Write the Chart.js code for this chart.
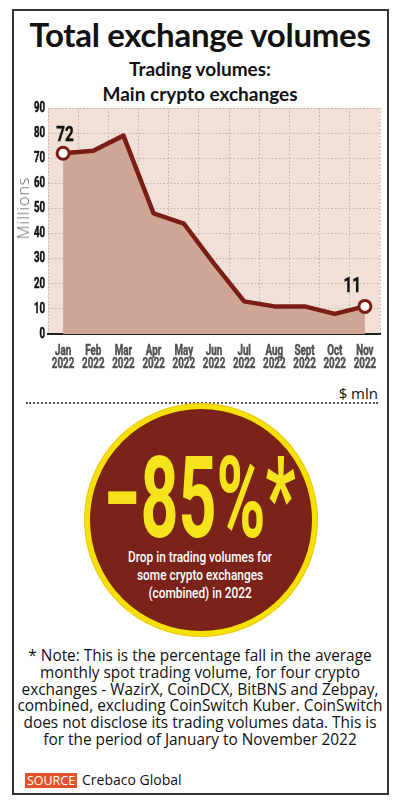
<!DOCTYPE html>
<html><head><meta charset="utf-8">
<script src="https://cdn.jsdelivr.net/npm/chart.js@4.4.1/dist/chart.umd.min.js"></script>
<style>
html,body{margin:0;padding:0;background:#fff;}
body{width:400px;height:807px;position:relative;overflow:hidden;font-family:Lato,"Open Sans",sans-serif;color:#111;}
.frame{position:absolute;left:12px;top:9px;width:377px;height:786px;border:2px solid #333;box-sizing:border-box;}
.title{position:absolute;left:0;top:14px;width:400px;text-align:center;font:700 33px/40px Lato,sans-serif;color:#111;letter-spacing:-0.3px;}
.sub{position:absolute;left:0;top:56px;width:400px;text-align:center;font:700 19px/25px Lato,sans-serif;color:#111;}
#chartWrap{position:absolute;left:0;top:0;width:400px;height:380px;}
.ytitle{position:absolute;left:23px;top:208px;transform:translate(-50%,-50%) rotate(-90deg);font:300 16px "Open Sans",sans-serif;color:#666;letter-spacing:1px;white-space:nowrap;}
.unit{position:absolute;right:22px;top:383px;font:400 15px "Open Sans",sans-serif;color:#111;}
.sep{position:absolute;left:26px;top:402px;width:352px;border-top:2px dotted #555;}
.circle{position:absolute;left:85px;top:404px;width:232px;height:232px;border-radius:50%;background:#7b2219;border:5px solid #f5e100;box-sizing:border-box;box-shadow:0 0 0 1px #f2c200;}
.big{position:absolute;left:0;top:442px;width:400px;text-align:center;font:700 113px/113px Roboto,sans-serif;color:#f5e41c;white-space:nowrap;}
.big span,.csub span{display:inline-block;transform-origin:50% 50%;}
.csub{position:absolute;left:0;top:548px;width:400px;text-align:center;font:500 15px/18px Roboto,sans-serif;color:#fff;white-space:nowrap;}
.note{position:absolute;left:0;top:648px;width:400px;text-align:center;font:400 15.4px/16.8px "Open Sans",sans-serif;color:#111;white-space:nowrap;}
.srcbox{position:absolute;left:25px;top:773px;width:52px;height:15px;background:#e3522b;color:#fff;font:400 12.5px/15px "Open Sans",sans-serif;text-align:center;}
.srctxt{position:absolute;left:82px;top:770px;font:400 14px/20px "Open Sans",sans-serif;color:#111;}
</style></head>
<body>
<div class="frame"></div>
<div class="title">Total exchange volumes</div>
<div class="sub">Trading volumes:<br>Main crypto exchanges</div>
<div id="chartWrap"><canvas id="c" width="400" height="380"></canvas></div>
<div class="ytitle">Millions</div>
<div class="unit">$ mln</div>
<div class="sep"></div>
<div class="circle"></div>
<div class="big"><span id="bigTxt" data-w="192">−85%*</span></div>
<div class="csub"><span id="csubTxt" data-w="144">Drop in trading volumes for<br>some crypto exchanges<br>(combined) in 2022</span></div>
<div class="note">* Note: This is the percentage fall in the average<br>monthly spot trading volume, for four crypto<br>exchanges - WazirX, CoinDCX, BitBNS and Zebpay,<br>combined, excluding CoinSwitch Kuber. CoinSwitch<br>does not disclose its trading volumes data. This is<br>for the period of January to November 2022</div>
<div class="srcbox">SOURCE</div>
<div class="srctxt">Crebaco Global</div>
<script>
// ---- data ----
const months = ['Jan','Feb','Mar','Apr','May','Jun','Jul','Aug','Sept','Oct','Nov'];
const years = ['2022','2022','2022','2022','2022','2022','2022','2022','2022','2022','2022'];
const volumes = [72, 73, 79, 48, 44, 28, 13, 11, 11, 8, 11];
const yTicks = [0,10,20,30,40,50,60,70,80,90];

const LINE = '#7a1d14';
const FILL = '#cfa696';
const PLOT_BG = '#f0e0d8';
const GRID = '#c7b0a6';
const CFONT = 'Roboto, sans-serif';

// fit condensed texts horizontally
['bigTxt','csubTxt'].forEach(id=>{
  const el=document.getElementById(id);
  const w=el.getBoundingClientRect().width;
  const s=parseFloat(el.dataset.w)/w;
  el.style.transform='scaleX('+s+')';
});

function narrowText(ctx, text, x, y, sx, bold){
  ctx.save(); ctx.translate(x, y); ctx.scale(sx, 1);
  ctx.fillText(text, 0, 0);
  if (bold) { ctx.lineWidth = bold; ctx.strokeStyle = ctx.fillStyle; ctx.strokeText(text, 0, 0); }
  ctx.restore();
}

const plotBg = {
  id:'plotBg',
  beforeDraw(chart){
    const {ctx, chartArea:a} = chart;
    ctx.save(); ctx.fillStyle = PLOT_BG;
    ctx.fillRect(a.left, a.top, a.right-a.left, a.bottom-a.top);
    ctx.restore();
  }
};
// condensed tick labels, placed from the library's own scales
const condensedTicks = {
  id:'condensedTicks',
  afterDraw(chart){
    const {ctx} = chart;
    const xs = chart.scales.x, ys = chart.scales.y;
    ctx.save();
    ctx.font = 'bold 14.5px ' + CFONT;
    ctx.fillStyle = '#505050';
    ctx.textAlign = 'center'; ctx.textBaseline = 'middle';
    const sxX = 22.5 / ctx.measureText('2022').width;
    xs.ticks.forEach((t,i)=>{
      const x = xs.getPixelForTick(i);
      const lines = Array.isArray(t.label) ? t.label : [t.label];
      lines.forEach((ln,j)=> narrowText(ctx, ln, x, xs.top + 17 + j*13.5, sxX, 0.5));
    });
    ctx.font = 'bold 15px ' + CFONT;
    ctx.fillStyle = '#111';
    ctx.textAlign = 'right';
    const sxY = 11 / ctx.measureText('90').width;
    ys.ticks.forEach(t=>{
      const y = ys.getPixelForValue(t.value);
      narrowText(ctx, String(t.value), ys.right - 3, y, sxY, 0.6);
    });
    ctx.restore();
  }
};
const endLabels = {
  id:'endLabels',
  afterDatasetsDraw(chart){
    const {ctx} = chart;
    const meta = chart.getDatasetMeta(0);
    const last = volumes.length-1;
    ctx.save();
    ctx.font = 'bold 20px ' + CFONT;
    ctx.fillStyle = '#111';
    ctx.textBaseline = 'alphabetic';
    const sx = 17.5 / ctx.measureText('72').width;
    const p0 = meta.data[0];
    ctx.textAlign = 'center';
    narrowText(ctx, String(volumes[0]), p0.x+2, p0.y-12, sx, 0.4);
    const pl = meta.data[last];
    ctx.textAlign = 'right';
    narrowText(ctx, String(volumes[last]), pl.x-4, pl.y-14, sx, 0.4);
    ctx.restore();
  }
};

new Chart(document.getElementById('c'), {
  type:'line',
  data:{
    labels: months.map((m,i)=>[m, years[i]]),
    datasets:[{
      data: volumes,
      borderColor: LINE,
      borderWidth: 4.5,
      borderJoinStyle:'round',
      backgroundColor: FILL,
      fill: 'origin',
      tension: 0,
      pointRadius: c => (c.dataIndex===0 || c.dataIndex===volumes.length-1) ? 6 : 0,
      pointBorderWidth: 3,
      pointBackgroundColor: '#fff',
      pointBorderColor: LINE
    }]
  },
  options:{
    responsive:false,
    animation:false,
    events:[],
    layout:{padding:{top:108,right:20,left:0,bottom:0}},
    plugins:{legend:{display:false},tooltip:{enabled:false}},
    scales:{
      x:{
        offset:true,
        grid:{offset:true,color:GRID,lineWidth:1,drawTicks:false},
        border:{display:true,color:'#222',width:2,dash:[1.5,2]},
        ticks:{display:false,autoSkip:false,maxRotation:0},
        afterFit(s){ s.height = 46; }
      },
      y:{
        min:0,max:90,
        afterBuildTicks(s){ s.ticks = yTicks.map(v=>({value:v})); },
        grid:{color:GRID,lineWidth:1,drawTicks:false},
        border:{display:false,dash:[1.5,2]},
        ticks:{display:false},
        afterFit(s){ s.width = 48; }
      }
    }
  },
  plugins:[plotBg, condensedTicks, endLabels]
});
</script>
</body></html>
